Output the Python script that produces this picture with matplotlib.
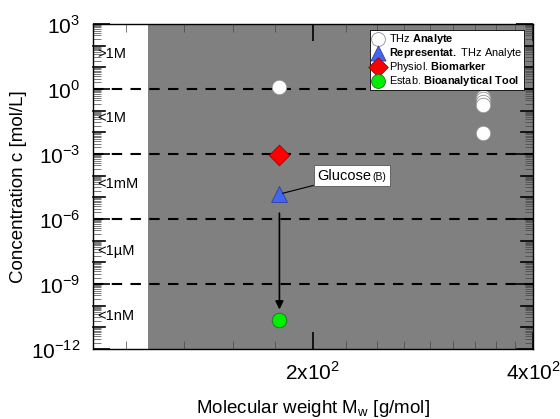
import numpy as np
import matplotlib
matplotlib.use("Agg")
import matplotlib.pyplot as plt
from matplotlib.ticker import FixedLocator, FixedFormatter, NullFormatter
from matplotlib.offsetbox import TextArea, HPacker, AnnotationBbox

plt.rcParams['font.family'] = ['Liberation Sans', 'DejaVu Sans']
plt.rcParams['mathtext.fontset'] = 'custom'
plt.rcParams['mathtext.rm'] = 'Liberation Sans'
plt.rcParams['mathtext.bf'] = 'Liberation Sans:bold'

# data (molecular weight in g/mol, concentration in mol/L)
thz_mw = [180, 342, 342, 342, 342, 342]
thz_c = [1.2, 0.45, 0.33, 0.24, 0.18, 0.0095]
rep_mw = [180]
rep_c = [1.4e-5]
bio_mw = [180]
bio_c = [9e-4]
tool_mw = [180]
tool_c = [2.2e-11]

region_y = [40, 0.045, 4.2e-5, 3.5e-8, 3.4e-11]
region_txt = [">1M", "<1M", "<1mM", "<1µM", "<1nM"]
dash_levels = [1, 1e-3, 1e-6, 1e-9]
shade_start = 119

fig = plt.figure(figsize=(5.6, 4.19), dpi=100)
ax = fig.add_axes([0.1655, 0.167, 0.7865, 0.7757])

ax.set_xscale('log')
ax.set_yscale('log')
ax.set_xlim(100, 400)
ax.set_ylim(1e-12, 1e3)

ax.axvspan(shade_start, 400, color='#808080', zorder=0, lw=0)
for lv in dash_levels:
    ax.axhline(lv, color='black', ls=(0, (5, 4)), lw=1.5, zorder=1)

for y, t in zip(region_y, region_txt):
    ax.text(101.5, y, t, fontsize=10.5, va='center', ha='left', zorder=2)

ax.scatter(thz_mw, thz_c, s=110, c='white', edgecolors='#909090', linewidths=0.6,
           zorder=4, label=r"THz $\mathbf{Analyte}$")
ax.scatter(rep_mw, rep_c, s=130, marker='^', c='#4466ee', edgecolors='#3040a0', linewidths=0.6,
           zorder=4, label=r"$\mathbf{Representat.}$ THz Analyte")
ax.scatter(bio_mw, bio_c, s=110, marker='D', c='#ff0000', edgecolors='#a00000', linewidths=0.6,
           zorder=4, label=r"Physiol. $\mathbf{Biomarker}$")
ax.scatter(tool_mw, tool_c, s=110, c='#00ee00', edgecolors='#207020', linewidths=0.6,
           zorder=4, label=r"Estab. $\mathbf{Bioanalytical\ Tool}$")

ax.annotate("", xy=(180, 5e-11), xytext=(180, 2.5e-6),
            arrowprops=dict(arrowstyle='-|>', color='black', lw=1.2, mutation_scale=12), zorder=3)

box = HPacker(children=[TextArea("Glucose", textprops=dict(fontsize=10.5)),
                        TextArea("(B)", textprops=dict(fontsize=7.5))],
              align='baseline', pad=0, sep=1)
ab = AnnotationBbox(box, (rep_mw[0] * 1.01, rep_c[0] * 1.1), xybox=(226, 1.0e-4),
                    xycoords='data', boxcoords='data', box_alignment=(0.5, 0.5),
                    pad=0.25, bboxprops=dict(fc='white', ec='#555555', lw=0.6),
                    arrowprops=dict(arrowstyle='-', color='black', lw=0.8,
                                    shrinkA=0, shrinkB=0), zorder=5)
ax.add_artist(ab)

# ticks
ax.xaxis.set_major_locator(FixedLocator([200, 400]))
ax.xaxis.set_major_formatter(FixedFormatter([r"2x10$^2$", r"4x10$^2$"]))
ax.xaxis.set_minor_locator(FixedLocator([200 * k / 9 for k in range(4, 18) if k != 9]))
ax.xaxis.set_minor_formatter(NullFormatter())

ylab_exp = list(range(-12, 4, 3))
ax.yaxis.set_major_locator(FixedLocator([10.0 ** e for e in ylab_exp]))
ax.yaxis.set_major_formatter(FixedFormatter([r"10$^{%d}$" % e for e in ylab_exp]))
ax.yaxis.set_minor_locator(FixedLocator(
    [m * 10.0 ** e for e in range(-12, 3) for m in range(2, 10)]))
ax.yaxis.set_minor_formatter(NullFormatter())
# decade ticks between the labelled ones, drawn long like majors
for e in range(-12, 4):
    if e % 3 != 0:
        for xs in (0, 1):
            ax.plot([xs, xs + (0.027 if xs == 0 else -0.027)], [10.0 ** e, 10.0 ** e],
                    transform=ax.get_yaxis_transform(), color='black', lw=1.2,
                    clip_on=False, zorder=6)

ax.tick_params(which='major', direction='in', length=12, width=1.2, top=True, right=True,
               labelsize=15, pad=9)
ax.tick_params(which='minor', direction='in', length=6, width=0.5, top=True, right=True,
               color='#444444')

for sp in ax.spines.values():
    sp.set_linewidth(1.0)

ax.set_xlabel(r"Molecular weight M$_\mathregular{w}$ [g/mol]", fontsize=13.5, labelpad=10)
ax.set_ylabel("Concentration c [mol/L]", fontsize=13.5, labelpad=3)

leg = ax.legend(loc='upper right', bbox_to_anchor=(0.98, 0.982), borderaxespad=0,
                fontsize=7.9, frameon=True, fancybox=False, edgecolor='black',
                framealpha=1.0, handletextpad=0.4, borderpad=0.15, labelspacing=0.02,
                handlelength=1.2, scatterpoints=1, markerscale=0.95)
leg.get_frame().set_linewidth(0.6)
leg.set_zorder(7)

fig.savefig("out.png", dpi=100)
